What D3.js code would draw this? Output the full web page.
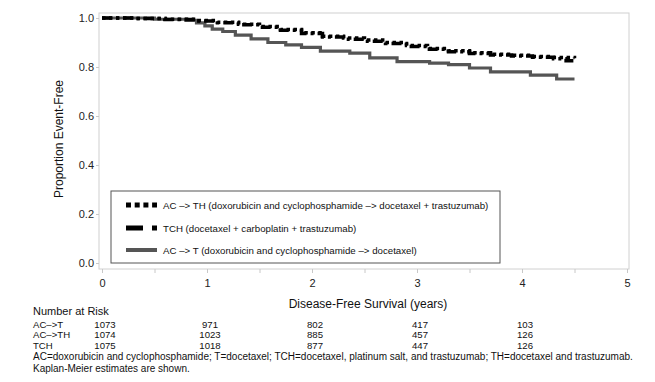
<!DOCTYPE html>
<html><head><meta charset="utf-8">
<script src="https://cdn.jsdelivr.net/npm/d3@7"></script>
<style>
body{margin:0;background:#fff;}
svg{display:block;font-family:"Liberation Sans",Arial,Helvetica,sans-serif;}
</style></head>
<body>
<svg id="chart" width="655" height="382"></svg>
<script>
// ---- data ----
const seriesNames = ["AC –> TH (doxorubicin and cyclophosphamide –> docetaxel + trastuzumab)",
  "TCH (docetaxel + carboplatin + trastuzumab)",
  "AC –> T (doxorubicin and cyclophosphamide –> docetaxel)"];
const acthTimes = [0,0.3,0.6,0.9,1.1,1.3,1.5,1.7,1.9,2.1,2.3,2.5,2.7,2.9,3.1,3.3,3.5,3.7,3.9,4.1,4.3,4.5];
const acthSurv  = [1,0.998,0.995,0.99,0.983,0.975,0.965,0.953,0.94,0.926,0.918,0.91,0.9,0.888,0.876,0.866,0.858,0.852,0.848,0.843,0.839,0.836];
const tchTimes  = [0,0.3,0.6,0.9,1.1,1.3,1.5,1.7,1.9,2.1,2.3,2.5,2.7,2.9,3.1,3.3,3.5,3.7,3.9,4.1,4.3,4.42,4.5];
const tchSurv   = [1,0.998,0.994,0.988,0.981,0.972,0.962,0.95,0.937,0.922,0.913,0.905,0.896,0.884,0.872,0.862,0.855,0.849,0.845,0.84,0.834,0.826,0.82];
const actTimes  = [0,0.5,0.8,0.9,0.98,1.05,1.15,1.27,1.42,1.58,1.75,1.9,2.08,2.36,2.55,2.81,3.12,3.3,3.5,3.7,4.08,4.33,4.5];
const actSurv   = [1,0.995,0.99,0.98,0.968,0.955,0.945,0.93,0.915,0.9,0.89,0.88,0.865,0.857,0.837,0.822,0.816,0.81,0.796,0.78,0.767,0.751,0.751];
const xTickLabels = [0,1,2,3,4,5];
const yTickLabels = [0.0,0.2,0.4,0.6,0.8,1.0];
const riskLabels = ["AC–>T","AC–>TH","TCH"];
const riskTimes = [0,1,2,3,4];
const riskACT  = [1073,971,802,417,103];
const riskACTH = [1074,1023,885,457,126];
const riskTCH  = [1075,1018,877,447,126];
const footnotes = ["AC=doxorubicin and cyclophosphamide; T=docetaxel; TCH=docetaxel, platinum salt, and trastuzumab; TH=docetaxel and trastuzumab.",
  "Kaplan-Meier estimates are shown."];

// ---- chart ----
const svg = d3.select("#chart");
const x = d3.scaleLinear().domain([0,5]).range([102,627]);
const y = d3.scaleLinear().domain([0,1]).range([263,18]);
const frame = {l:99,t:13,r:629,b:269};

svg.append("rect").attr("x",frame.l).attr("y",frame.t)
  .attr("width",frame.r-frame.l).attr("height",frame.b-frame.t)
  .attr("fill","none").attr("stroke","#d0d0d0").attr("stroke-width",1);

// x axis
const xAxis = d3.axisBottom(x).tickValues(d3.range(0,5.01,0.5)).tickSize(4).tickPadding(6)
  .tickFormat(d => Number.isInteger(d) ? d3.format("d")(d) : "");
const gx = svg.append("g").attr("transform",`translate(0,${frame.b})`).call(xAxis);
gx.select(".domain").remove();
gx.selectAll("line").attr("stroke","#c8c8c8");
gx.selectAll("text").attr("font-size",11).attr("fill","#222").attr("font-family","Liberation Sans, Arial, sans-serif");

// y axis
const yAxis = d3.axisLeft(y).tickValues(yTickLabels).tickSize(3).tickPadding(2).tickFormat(d3.format(".1f"));
const gy = svg.append("g").attr("transform",`translate(${frame.l},0)`).call(yAxis);
gy.select(".domain").remove();
gy.selectAll("line").attr("stroke","#c8c8c8");
gy.selectAll("text").attr("font-size",11).attr("fill","#222").attr("font-family","Liberation Sans, Arial, sans-serif");

// titles
svg.append("text").attr("x",368).attr("y",308).attr("text-anchor","middle")
  .attr("font-size",12).attr("fill","#111").text("Disease-Free Survival (years)");
svg.append("text").attr("transform","translate(63,139) rotate(-90)").attr("text-anchor","middle")
  .attr("font-size",12).attr("fill","#111").text("Proportion Event-Free");

// curves
const line = d3.line().x(d=>x(d[0])).y(d=>y(d[1])).curve(d3.curveStepAfter);
const styles = [
  {color:"#000", width:3.5, dash:"3.5,3.5", legendDash:"5,3.7"},
  {color:"#000", width:3.5, dash:"10,4,3,4", legendDash:"17,9,6,9"},
  {color:"#555", width:3.2, dash:null, legendDash:null}
];
const curves = [d3.zip(actTimes,actSurv), d3.zip(tchTimes,tchSurv), d3.zip(acthTimes,acthSurv)];
const curveStyle = [styles[2], styles[1], styles[0]];
curves.forEach((c,i)=>{
  const s = curveStyle[i];
  svg.append("path").datum(c).attr("d",line).attr("fill","none")
    .attr("stroke",s.color).attr("stroke-width",s.width)
    .attr("stroke-dasharray",s.dash);
});

// legend
svg.append("rect").attr("x",111).attr("y",191).attr("width",389).attr("height",72)
  .attr("fill","#fff").attr("stroke","#555").attr("stroke-width",1);
const legY = [205,228,250];
seriesNames.forEach((n,i)=>{
  const s = styles[i];
  svg.append("line").attr("x1",126).attr("x2",157).attr("y1",legY[i]).attr("y2",legY[i])
    .attr("stroke",s.color).attr("stroke-width",i===2?4:5).attr("stroke-dasharray",s.legendDash);
  svg.append("text").attr("x",163).attr("y",legY[i]+3.5).attr("font-size",9.7).attr("fill","#111").text(n);
});

// number at risk table
svg.append("text").attr("x",33).attr("y",315).attr("font-size",11).attr("fill","#111").text("Number at Risk");
const riskRows = [riskACT, riskACTH, riskTCH];
const rowY = [327.5,338,348.5];
riskRows.forEach((row,i)=>{
  svg.append("text").attr("x",33).attr("y",rowY[i]).attr("font-size",9.6).attr("fill","#111").text(riskLabels[i]);
  row.forEach((v,j)=>{
    svg.append("text").attr("x",x(riskTimes[j])+3).attr("y",rowY[i]).attr("text-anchor","middle")
      .attr("font-size",9.6).attr("fill","#111").text(v);
  });
});
footnotes.forEach((f,i)=>{
  svg.append("text").attr("x",33).attr("y",360+i*11.5).attr("font-size",10).attr("fill","#111").text(f);
});
</script>
</body></html>
